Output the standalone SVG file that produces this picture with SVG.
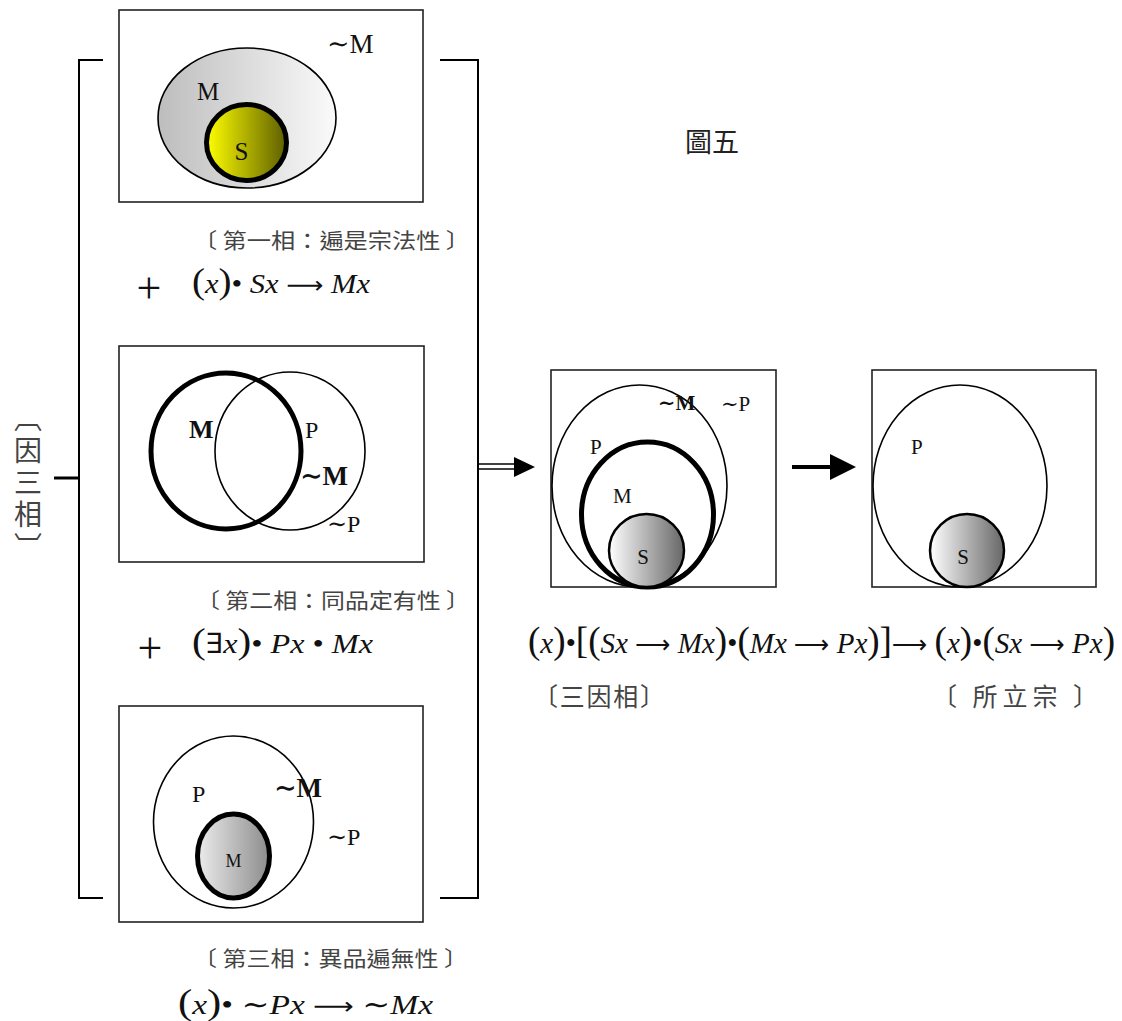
<svg xmlns="http://www.w3.org/2000/svg" width="1122" height="1021" viewBox="0 0 1122 1021">
<style>
.box{fill:none;stroke:#222;stroke-width:1.6}
.thin{stroke:#000;stroke-width:1.6}
.thick{stroke:#000;stroke-width:5}
.lbl{font-family:"Liberation Serif","DejaVu Serif",serif;fill:#111}
.b{font-weight:bold}
.cjk{font-family:"Noto Sans CJK TC","Noto Sans CJK SC",sans-serif;fill:#444}
.math{font-family:"Liberation Serif","DejaVu Serif",serif;fill:#111}
.it{font-style:italic}
.pr{font-size:1.28em}
.ar{font-family:"DejaVu Sans",sans-serif;font-size:0.85em}
.br{fill:none;stroke:#000;stroke-width:2}
</style>
<defs>
<linearGradient id="gGray1" x1="0" y1="0" x2="1" y2="0"><stop offset="0" stop-color="#bdbdbd"/><stop offset="1" stop-color="#fafafa"/></linearGradient>
<linearGradient id="gYellow" x1="0" y1="0" x2="1" y2="0"><stop offset="0" stop-color="#ffff00"/><stop offset="1" stop-color="#5e5e00"/></linearGradient>
<linearGradient id="gGray3" x1="0" y1="0" x2="1" y2="0"><stop offset="0" stop-color="#ececec"/><stop offset="1" stop-color="#8c8c8c"/></linearGradient>
<linearGradient id="gS" x1="0" y1="0" x2="1" y2="0"><stop offset="0" stop-color="#ffffff"/><stop offset="1" stop-color="#666666"/></linearGradient>
</defs>

<g id="title"><text class="cjk" x="685" y="152" font-size="27" style="fill:#222">圖五</text></g>

<g id="label-yinsanxiang">
<text class="cjk" x="28" y="404" font-size="28" letter-spacing="4" style="writing-mode:vertical-rl">〔因三相〕</text>
</g>

<g id="brackets">
<path class="br" d="M103,60 H79 V898 H103"/>
<path class="br" d="M440,60 H478 V898 H440"/>
<line x1="54" y1="478" x2="79" y2="478" stroke="#000" stroke-width="3"/>
</g>

<g id="node-1">
<rect class="box" x="119" y="10" width="304" height="192"/>
<ellipse cx="247" cy="118" rx="89" ry="70" fill="url(#gGray1)" class="thin"/>
<ellipse cx="246.5" cy="142.5" rx="40" ry="38" fill="url(#gYellow)" class="thick"/>
<text class="lbl" x="327" y="53" font-size="27">∼M</text>
<text class="lbl" x="197" y="100" font-size="25">M</text>
<text class="lbl" x="241.5" y="160" font-size="25" text-anchor="middle">S</text>
</g>
<g id="caption-1">
<text class="cjk" x="193" y="248" font-size="21" textLength="277" lengthAdjust="spacingAndGlyphs">〔 第一相：遍是宗法性 〕</text>
<text class="math" x="149" y="303" font-size="44" text-anchor="middle">+</text>
<text class="math" x="192" y="293" font-size="28" textLength="178" lengthAdjust="spacingAndGlyphs"><tspan class="pr">(</tspan><tspan class="it">x</tspan><tspan class="pr">)</tspan>• <tspan class="it">Sx</tspan> <tspan class="ar">⟶</tspan> <tspan class="it">Mx</tspan></text>
</g>

<g id="node-2">
<rect class="box" x="119" y="346" width="305" height="216"/>
<ellipse cx="290" cy="451" rx="75" ry="79" fill="none" class="thin"/>
<ellipse cx="226" cy="451" rx="75" ry="78" fill="none" class="thick"/>
<text class="lbl b" x="189" y="438" font-size="26">M</text>
<text class="lbl" x="305" y="438" font-size="24">P</text>
<text class="lbl b" x="300" y="485" font-size="27">∼M</text>
<text class="lbl" x="327" y="532" font-size="24">∼P</text>
</g>
<g id="caption-2">
<text class="cjk" x="196" y="608" font-size="21" textLength="274" lengthAdjust="spacingAndGlyphs">〔 第二相：同品定有性 〕</text>
<text class="math" x="150" y="663" font-size="44" text-anchor="middle">+</text>
<text class="math" x="192" y="653" font-size="28" textLength="181" lengthAdjust="spacingAndGlyphs"><tspan class="pr">(</tspan>∃<tspan class="it">x</tspan><tspan class="pr">)</tspan>• <tspan class="it">Px</tspan> • <tspan class="it">Mx</tspan></text>
</g>

<g id="node-3">
<rect class="box" x="119" y="706" width="304" height="216"/>
<ellipse cx="233.5" cy="822" rx="80" ry="86" fill="none" class="thin"/>
<ellipse cx="233.5" cy="856" rx="36" ry="42" fill="url(#gGray3)" class="thick"/>
<text class="lbl" x="192" y="802" font-size="24">P</text>
<text class="lbl b" x="274" y="797" font-size="27">∼M</text>
<text class="lbl" x="327" y="845" font-size="24">∼P</text>
<text class="lbl" x="233.5" y="867" font-size="18" text-anchor="middle">M</text>
</g>
<g id="caption-3">
<text class="cjk" x="193" y="966" font-size="21" textLength="275" lengthAdjust="spacingAndGlyphs">〔 第三相：異品遍無性 〕</text>
<text class="math" x="178" y="1014" font-size="28" textLength="255" lengthAdjust="spacingAndGlyphs"><tspan class="pr">(</tspan><tspan class="it">x</tspan><tspan class="pr">)</tspan>• ∼<tspan class="it">Px</tspan> <tspan class="ar">⟶</tspan> ∼<tspan class="it">Mx</tspan></text>
</g>

<g id="connectors">
<line x1="478" y1="464" x2="516" y2="464" stroke="#000" stroke-width="1.5"/>
<line x1="478" y1="469" x2="516" y2="469" stroke="#000" stroke-width="1.5"/>
<polygon points="514,457 535,467 514,477" fill="#000"/>
<line x1="792" y1="467" x2="832" y2="467" stroke="#000" stroke-width="4"/>
<polygon points="830,454 856,467 830,480" fill="#000"/>
</g>

<g id="node-4">
<rect class="box" x="551" y="370" width="225" height="217"/>
<ellipse cx="639.5" cy="486" rx="87.5" ry="101" fill="none" class="thin"/>
<ellipse cx="647.5" cy="514.5" rx="66" ry="72.5" fill="none" class="thick"/>
<ellipse cx="646.5" cy="550.5" rx="37.5" ry="36.5" fill="url(#gS)" stroke="#000" stroke-width="2.5"/>
<text class="lbl b" x="658" y="410" font-size="21">∼M</text>
<text class="lbl" x="721" y="411" font-size="21">∼P</text>
<text class="lbl" x="590" y="454" font-size="21">P</text>
<text class="lbl" x="613" y="503" font-size="21">M</text>
<text class="lbl" x="643" y="564" font-size="21" text-anchor="middle">S</text>
</g>

<g id="node-5">
<rect class="box" x="872" y="370" width="224" height="217"/>
<ellipse cx="960" cy="486" rx="87" ry="101" fill="none" class="thin"/>
<ellipse cx="967" cy="550.5" rx="37" ry="36.5" fill="url(#gS)" stroke="#000" stroke-width="2.5"/>
<text class="lbl" x="911" y="454" font-size="21">P</text>
<text class="lbl" x="963" y="564" font-size="21" text-anchor="middle">S</text>
</g>

<g id="conclusion">
<text class="math" x="528" y="653" font-size="30" textLength="587" lengthAdjust="spacingAndGlyphs"><tspan class="pr">(</tspan><tspan class="it">x</tspan><tspan class="pr">)</tspan>•<tspan class="pr">[(</tspan><tspan class="it">Sx</tspan> <tspan class="ar">⟶</tspan> <tspan class="it">Mx</tspan><tspan class="pr">)</tspan>•<tspan class="pr">(</tspan><tspan class="it">Mx</tspan> <tspan class="ar">⟶</tspan> <tspan class="it">Px</tspan><tspan class="pr">)]</tspan><tspan class="ar">⟶</tspan> <tspan class="pr">(</tspan><tspan class="it">x</tspan><tspan class="pr">)</tspan>•<tspan class="pr">(</tspan><tspan class="it">Sx</tspan> <tspan class="ar">⟶</tspan> <tspan class="it">Px</tspan><tspan class="pr">)</tspan></text>
<text class="cjk" x="533" y="706" font-size="25" textLength="132" lengthAdjust="spacing">〔三因相〕</text>
<text class="cjk" x="932" y="706" font-size="25" textLength="166" lengthAdjust="spacing">〔 所立宗 〕</text>
</g>
</svg>
